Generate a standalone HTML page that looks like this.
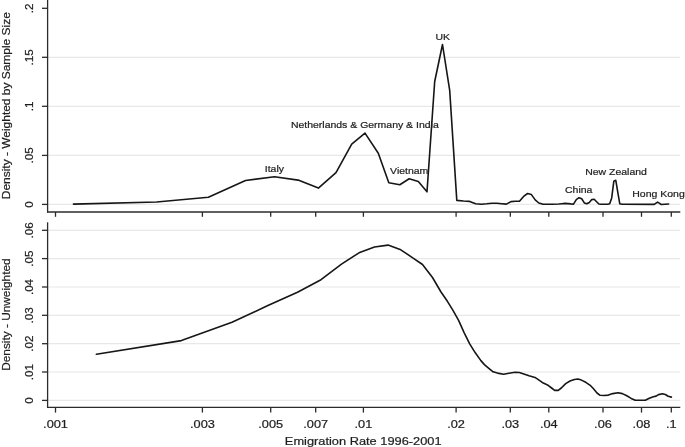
<!DOCTYPE html><html><head><meta charset="utf-8"><style>html,body{margin:0;padding:0;background:#fff;overflow:hidden}svg{display:block;will-change:transform}text{font-family:"Liberation Sans",sans-serif;fill:#1e1e1e;stroke:#1e1e1e;stroke-width:0.22px}</style></head><body>
<svg width="685" height="447" viewBox="0 0 685 447">
<rect width="685" height="447" fill="#fff"/>
<line x1="48" x2="680.3" y1="204.4" y2="204.4" stroke="#e8e8e8" stroke-width="1.2"/>
<line x1="48" x2="680.3" y1="155.4" y2="155.4" stroke="#e8e8e8" stroke-width="1.2"/>
<line x1="48" x2="680.3" y1="106.3" y2="106.3" stroke="#e8e8e8" stroke-width="1.2"/>
<line x1="48" x2="680.3" y1="57.3" y2="57.3" stroke="#e8e8e8" stroke-width="1.2"/>
<line x1="48" x2="680.3" y1="400.4" y2="400.4" stroke="#e8e8e8" stroke-width="1.2"/>
<line x1="48" x2="680.3" y1="372.0" y2="372.0" stroke="#e8e8e8" stroke-width="1.2"/>
<line x1="48" x2="680.3" y1="343.7" y2="343.7" stroke="#e8e8e8" stroke-width="1.2"/>
<line x1="48" x2="680.3" y1="315.3" y2="315.3" stroke="#e8e8e8" stroke-width="1.2"/>
<line x1="48" x2="680.3" y1="287.0" y2="287.0" stroke="#e8e8e8" stroke-width="1.2"/>
<line x1="48" x2="680.3" y1="258.6" y2="258.6" stroke="#e8e8e8" stroke-width="1.2"/>
<line x1="48" x2="680.3" y1="230.3" y2="230.3" stroke="#e8e8e8" stroke-width="1.2"/>
<g stroke="#2b2b2b" stroke-width="1.3" fill="none">
<line x1="47.6" y1="0" x2="47.6" y2="212.6"/>
<line x1="47" y1="212" x2="680.3" y2="212"/>
<line x1="47.6" y1="222.3" x2="47.6" y2="408"/>
<line x1="47" y1="407.4" x2="680.3" y2="407.4"/>
<line x1="42" x2="47.6" y1="204.4" y2="204.4"/>
<line x1="42" x2="47.6" y1="155.4" y2="155.4"/>
<line x1="42" x2="47.6" y1="106.3" y2="106.3"/>
<line x1="42" x2="47.6" y1="57.3" y2="57.3"/>
<line x1="42" x2="47.6" y1="8.3" y2="8.3"/>
<line x1="42" x2="47.6" y1="400.4" y2="400.4"/>
<line x1="42" x2="47.6" y1="372.0" y2="372.0"/>
<line x1="42" x2="47.6" y1="343.7" y2="343.7"/>
<line x1="42" x2="47.6" y1="315.3" y2="315.3"/>
<line x1="42" x2="47.6" y1="287.0" y2="287.0"/>
<line x1="42" x2="47.6" y1="258.6" y2="258.6"/>
<line x1="42" x2="47.6" y1="230.3" y2="230.3"/>
<line x1="55.5" x2="55.5" y1="212" y2="216.8"/>
<line x1="55.5" x2="55.5" y1="407.4" y2="412.6"/>
<line x1="202.4" x2="202.4" y1="212" y2="216.8"/>
<line x1="202.4" x2="202.4" y1="407.4" y2="412.6"/>
<line x1="270.7" x2="270.7" y1="212" y2="216.8"/>
<line x1="270.7" x2="270.7" y1="407.4" y2="412.6"/>
<line x1="315.7" x2="315.7" y1="212" y2="216.8"/>
<line x1="315.7" x2="315.7" y1="407.4" y2="412.6"/>
<line x1="363.4" x2="363.4" y1="212" y2="216.8"/>
<line x1="363.4" x2="363.4" y1="407.4" y2="412.6"/>
<line x1="456.1" x2="456.1" y1="212" y2="216.8"/>
<line x1="456.1" x2="456.1" y1="407.4" y2="412.6"/>
<line x1="510.3" x2="510.3" y1="212" y2="216.8"/>
<line x1="510.3" x2="510.3" y1="407.4" y2="412.6"/>
<line x1="548.8" x2="548.8" y1="212" y2="216.8"/>
<line x1="548.8" x2="548.8" y1="407.4" y2="412.6"/>
<line x1="603.0" x2="603.0" y1="212" y2="216.8"/>
<line x1="603.0" x2="603.0" y1="407.4" y2="412.6"/>
<line x1="641.5" x2="641.5" y1="212" y2="216.8"/>
<line x1="641.5" x2="641.5" y1="407.4" y2="412.6"/>
<line x1="671.3" x2="671.3" y1="212" y2="216.8"/>
<line x1="671.3" x2="671.3" y1="407.4" y2="412.6"/>
</g>
<polyline points="73.4,204.1 156.6,202.0 208.4,197.3 245.5,180.5 274.5,176.8 298.1,180.1 318.4,188.1 336.0,172.7 351.7,144.1 365.0,133.1 378.3,153.2 388.8,182.8 399.8,184.7 409.2,178.8 418.3,181.5 427.0,191.8 434.7,81.5 442.5,44.5 449.7,90.4 456.8,200.4 463.5,201.0 469.7,201.4 475.6,203.8 481.2,204.3 486.7,203.8 491.9,203.2 496.9,203.2 501.8,203.7 506.4,204.1 511.0,201.6 515.3,201.2 519.5,201.2 523.6,196.4 527.6,193.5 531.4,194.6 535.2,199.9 538.8,203.0 542.4,204.1 545.8,204.2 552.5,204.2 558.8,204.0 561.9,203.7 564.9,203.4 567.9,203.6 570.7,203.9 573.5,204.1 576.3,199.6 579.0,197.7 581.7,198.8 584.3,202.9 586.8,203.8 589.3,202.5 591.8,199.6 594.2,199.2 596.6,201.7 598.9,204.0 601.2,204.3 607.8,204.3 609.7,203.8 611.7,197.9 613.8,181.3 615.8,180.3 617.8,192.4 619.8,203.8 622.2,204.3 654.3,204.4 656.0,203.2 657.6,202.1 659.2,203.1 661.2,204.5 665.0,204.2 668.6,204.0" fill="none" stroke="#161616" stroke-width="1.6" stroke-linejoin="round" stroke-linecap="round"/>
<polyline points="96.4,354.3 181.4,340.6 232.0,322.2 267.9,305.6 297.5,292.2 321.0,279.7 341.5,264.2 359.0,252.8 374.5,247.0 388.0,245.1 400.8,249.8 412.0,257.3 422.5,264.5 432.5,277.5 441.0,292.0 447.4,301.3 453.0,310.3 458.6,320.3 464.1,332.6 469.7,343.8 475.3,352.8 480.9,360.6 484.4,364.6 488.8,368.3 493.1,371.8 497.5,373.1 503.6,374.3 508.9,373.3 515.0,372.3 519.4,372.5 523.8,374.0 529.0,375.8 535.0,377.4 539.4,380.3 543.3,383.1 548.1,385.3 551.6,388.0 554.7,390.4 558.2,390.4 561.3,388.0 565.7,383.6 570.0,381.0 574.4,379.5 577.9,379.0 581.4,380.1 585.8,382.3 590.2,385.3 593.5,388.8 597.0,393.0 600.1,395.3 604.0,395.5 608.4,395.1 612.8,393.6 618.0,392.7 622.4,393.6 626.8,395.8 631.2,398.4 635.3,400.2 640.8,400.3 645.3,400.2 649.3,398.3 653.3,396.7 656.1,396.1 658.5,394.6 662.5,393.8 665.3,394.5 668.2,396.3 671.4,397.1" fill="none" stroke="#161616" stroke-width="1.6" stroke-linejoin="round" stroke-linecap="round"/>
<text transform="translate(33.00,204.40) rotate(-90) scale(1.030,1)" text-anchor="middle" font-size="11.30">0</text>
<text transform="translate(33.00,155.38) rotate(-90) scale(1.030,1)" text-anchor="middle" font-size="11.30">.05</text>
<text transform="translate(33.00,106.35) rotate(-90) scale(1.030,1)" text-anchor="middle" font-size="11.30">.1</text>
<text transform="translate(33.00,57.33) rotate(-90) scale(1.030,1)" text-anchor="middle" font-size="11.30">.15</text>
<text transform="translate(33.00,8.30) rotate(-90) scale(1.030,1)" text-anchor="middle" font-size="11.30">.2</text>
<text transform="translate(33.00,400.40) rotate(-90) scale(1.030,1)" text-anchor="middle" font-size="11.30">0</text>
<text transform="translate(33.00,372.05) rotate(-90) scale(1.030,1)" text-anchor="middle" font-size="11.30">.01</text>
<text transform="translate(33.00,343.70) rotate(-90) scale(1.030,1)" text-anchor="middle" font-size="11.30">.02</text>
<text transform="translate(33.00,315.35) rotate(-90) scale(1.030,1)" text-anchor="middle" font-size="11.30">.03</text>
<text transform="translate(33.00,287.00) rotate(-90) scale(1.030,1)" text-anchor="middle" font-size="11.30">.04</text>
<text transform="translate(33.00,258.65) rotate(-90) scale(1.030,1)" text-anchor="middle" font-size="11.30">.05</text>
<text transform="translate(33.00,230.30) rotate(-90) scale(1.030,1)" text-anchor="middle" font-size="11.30">.06</text>
<text transform="translate(55.50,428.00) scale(1.120,1)" text-anchor="middle" font-size="11.40">.001</text>
<text transform="translate(202.41,428.00) scale(1.120,1)" text-anchor="middle" font-size="11.40">.003</text>
<text transform="translate(270.71,428.00) scale(1.120,1)" text-anchor="middle" font-size="11.40">.005</text>
<text transform="translate(315.71,428.00) scale(1.120,1)" text-anchor="middle" font-size="11.40">.007</text>
<text transform="translate(363.40,428.00) scale(1.120,1)" text-anchor="middle" font-size="11.40">.01</text>
<text transform="translate(456.09,428.00) scale(1.120,1)" text-anchor="middle" font-size="11.40">.02</text>
<text transform="translate(510.31,428.00) scale(1.120,1)" text-anchor="middle" font-size="11.40">.03</text>
<text transform="translate(548.77,428.00) scale(1.120,1)" text-anchor="middle" font-size="11.40">.04</text>
<text transform="translate(602.99,428.00) scale(1.120,1)" text-anchor="middle" font-size="11.40">.06</text>
<text transform="translate(641.46,428.00) scale(1.120,1)" text-anchor="middle" font-size="11.40">.08</text>
<text transform="translate(671.30,428.00) scale(1.120,1)" text-anchor="middle" font-size="11.40">.1</text>
<text transform="translate(363.20,444.60) scale(1.105,1)" text-anchor="middle" font-size="11.60">Emigration Rate 1996-2001</text>
<text transform="translate(10.20,105.70) rotate(-90) scale(1.040,1)" text-anchor="middle" font-size="11.50">Density - Weighted by Sample Size</text>
<text transform="translate(10.20,314.60) rotate(-90) scale(1.030,1)" text-anchor="middle" font-size="11.50">Density - Unweighted</text>
<text transform="translate(274.40,171.60) scale(1.065,1)" text-anchor="middle" font-size="9.85">Italy</text>
<text transform="translate(364.80,127.90) scale(1.065,1)" text-anchor="middle" font-size="9.85">Netherlands &amp; Germany &amp; India</text>
<text transform="translate(409.20,174.00) scale(1.065,1)" text-anchor="middle" font-size="9.85">Vietnam</text>
<text transform="translate(442.80,39.70) scale(1.065,1)" text-anchor="middle" font-size="9.85">UK</text>
<text transform="translate(578.70,192.60) scale(1.065,1)" text-anchor="middle" font-size="9.85">China</text>
<text transform="translate(616.00,174.80) scale(1.065,1)" text-anchor="middle" font-size="9.85">New Zealand</text>
<text transform="translate(658.50,196.90) scale(1.065,1)" text-anchor="middle" font-size="9.85">Hong Kong</text>
</svg></body></html>
